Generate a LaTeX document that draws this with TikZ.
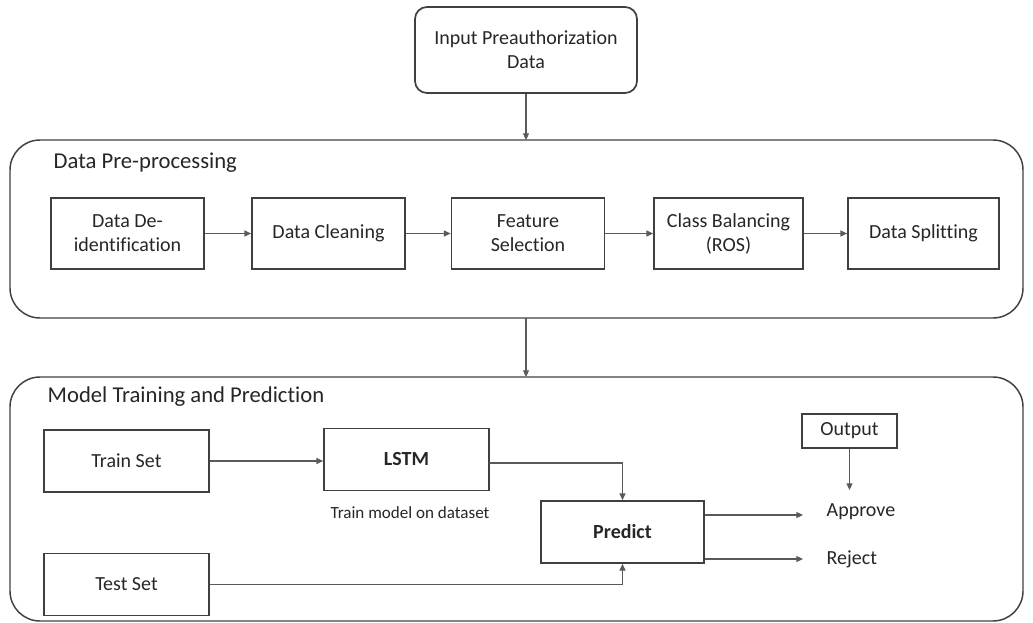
\documentclass[tikz,border=0pt]{standalone}
\usepackage{fontspec}
\setmainfont{Carlito}[Ligatures={NoCommon,NoRare,NoContextual},Contextuals=NoAlternate]
\usetikzlibrary{arrows.meta}
\definecolor{edge}{HTML}{404040}
\definecolor{conn}{HTML}{5A5A5A}
\definecolor{txt}{HTML}{262626}
\begin{document}
\begin{tikzpicture}[x=0.75pt,y=-0.75pt,
  every node/.style={text=txt,font=\fontsize{15}{18}\selectfont},
  stepbox/.style={draw=edge,line width=1.3pt,minimum width=153*0.75pt,minimum height=71*0.75pt,align=center,inner sep=0pt},
  mbox/.style={draw=edge,line width=1.3pt,minimum width=165*0.75pt,minimum height=62*0.75pt,align=center,inner sep=0pt},
  panel/.style={draw=edge,line width=1.1pt,rounded corners=30*0.75pt},
  title/.style={anchor=west,font=\fontsize{17}{20}\selectfont},
  arr/.style={draw=conn,line width=0.8pt,-{Triangle[length=5pt,width=4.5pt]}},
  plain/.style={draw=conn,line width=0.8pt}]
\useasboundingbox (0,0) rectangle (1033,622);
% input
\node[draw=edge,line width=1.3pt,rounded corners=12*0.75pt,minimum width=222*0.75pt,minimum height=86*0.75pt,align=center,inner sep=0pt] (inp) at (526,50) {Input Preauthorization\\Data};
% preprocessing panel
\draw[panel] (10,140) rectangle (1023,318);
\coordinate (pptop) at (526,140);
\coordinate (ppbot) at (526,318);
\node[title] (pptitle) at (49,163) {Data Pre-processing};
\node[stepbox] (b1) at (127.5,233.5) {Data De-\\identification};
\node[stepbox] (b2) at (328.5,233.5) {Data Cleaning};
\node[stepbox] (b3) at (528,233.5) {Feature\\Selection};
\node[stepbox, minimum width=149*0.75pt] (b4) at (728.5,233.5) {Class Balancing\\(ROS)};
\node[stepbox, minimum width=151*0.75pt] (b5) at (923.5,233.5) {Data Splitting};
\draw[arr] (inp) -- (pptop);
\draw[arr] (b1) -- (b2);
\draw[arr] (b2) -- (b3);
\draw[arr] (b3) -- (b4);
\draw[arr] (b4) -- (b5);
% model panel
\draw[panel] (10,377) rectangle (1023,621);
\coordinate (mtop) at (526,377);
\draw[arr] (ppbot) -- (mtop);
\node[title] (mtitle) at (43,397) {Model Training and Prediction};
\node[mbox] (train) at (126.5,461) {Train Set};
\node[mbox] (lstm) at (406.5,459.5) {\textbf{LSTM}};
\node[font=\fontsize{12.8}{15}\selectfont] (lstmlab) at (410,513) {Train model on dataset};
\node[mbox] (test) at (126.5,584.5) {Test Set};
\node[mbox, minimum width=163*0.75pt] (pred) at (622.5,532) {\textbf{Predict}};
\node[draw=edge,line width=1.3pt,minimum width=95*0.75pt,minimum height=34*0.75pt,inner sep=0pt] (out) at (849.5,431) {Output};
\node[anchor=west] (appr) at (822,512) {Approve};
\node[anchor=west] (rej) at (822,559) {Reject};
\coordinate (apprend) at (803,515);
\coordinate (rejend) at (803,559);
\coordinate (outend) at (849.5,490);
\coordinate (lstmout) at (489,463);
\draw[arr] (train) -- (lstm.west |- train);
\draw[arr] (lstmout) -| (pred.north);
\draw[arr] (test.east) -| (pred.south);
\draw[arr] (pred.east |- apprend) -- (apprend);
\draw[arr] (pred.east |- rejend) -- (rejend);
\draw[arr] (out) -- (outend);
\end{tikzpicture}
\end{document}
